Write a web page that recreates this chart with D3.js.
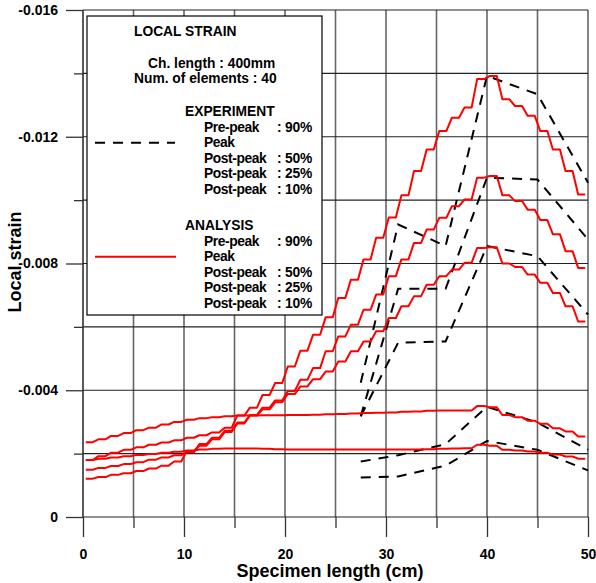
<!DOCTYPE html>
<html>
<head>
<meta charset="utf-8">
<script src="https://cdn.jsdelivr.net/npm/d3@7"></script>
<style>
body { margin: 0; background: #fff; }
text { font-family: "Liberation Sans", Arial, sans-serif; font-weight: bold; }
</style>
</head>
<body>
<div id="chart"></div>
<script>
// axis ticks
var xMajor = [0, 10, 20, 30, 40, 50];
var xMinor = [5, 15, 25, 35, 45];
var yMajor = [0, -0.004, -0.008, -0.012, -0.016];
var yMinor = [-0.002, -0.006, -0.010, -0.014];

// experiment: gauge positions (cm) and strain (x 1e-3, compression)
var expX = [27.5, 31.2, 35.9, 40, 45, 50];
var expPre90 = [1.25, 1.28, 1.62, 2.40, 2.12, 1.47];
var expPeak = [1.75, 1.95, 2.30, 3.48, 2.98, 2.12];
var expPost50 = [3.18, 5.50, 5.54, 8.55, 8.23, 6.39];
var expPost25 = [3.18, 7.20, 7.20, 10.71, 10.65, 8.76];
var expPost10 = [4.24, 9.23, 8.55, 13.92, 13.34, 10.55];

// analysis: 40 elements over 50 cm, strain per element (x 1e-3)
var nElem = 40, elemLen = 1.25;
var anaPre90 = [1.80, 1.84, 1.88, 1.92, 1.96, 1.99, 2.03, 2.06, 2.10, 2.13,
  2.15, 2.16, 2.16, 2.16, 2.15, 2.14, 2.13, 2.13, 2.13, 2.13,
  2.13, 2.13, 2.13, 2.13, 2.13, 2.13, 2.13, 2.14, 2.15, 2.16,
  2.17, 2.28, 2.25, 2.12, 2.10, 2.07, 2.03, 1.97, 1.91, 1.84];
var anaPeak = [2.36, 2.45, 2.56, 2.65, 2.74, 2.82, 2.92, 3.00, 3.07, 3.12,
  3.15, 3.18, 3.20, 3.20, 3.21, 3.21, 3.22, 3.22, 3.23, 3.24,
  3.25, 3.27, 3.28, 3.29, 3.30, 3.32, 3.33, 3.35, 3.36, 3.36,
  3.36, 3.50, 3.46, 3.22, 3.15, 3.04, 2.94, 2.80, 2.70, 2.54];
var anaPost50 = [1.21, 1.26, 1.33, 1.38, 1.45, 1.53, 1.62, 1.75, 2.08, 2.25,
  2.45, 2.68, 2.95, 3.20, 3.40, 3.62, 3.88, 4.12, 4.35, 4.59,
  4.91, 5.23, 5.54, 5.86, 6.28, 6.65, 6.97, 7.33, 7.60, 7.81,
  8.02, 8.49, 8.51, 8.00, 7.89, 7.65, 7.39, 7.07, 6.65, 6.17];
var anaPost25 = [1.49, 1.55, 1.61, 1.67, 1.73, 1.81, 1.88, 1.95, 2.04, 2.30,
  2.50, 2.72, 2.98, 3.22, 3.45, 3.68, 3.98, 4.33, 4.70, 5.23,
  5.70, 6.07, 6.54, 7.02, 7.60, 8.13, 8.65, 9.07, 9.44, 9.81,
  10.02, 10.71, 10.76, 10.15, 9.97, 9.70, 9.37, 8.92, 8.39, 7.86];
var anaPost10 = [1.80, 1.92, 2.03, 2.12, 2.20, 2.28, 2.35, 2.42, 2.50, 2.58,
  2.67, 2.82, 3.20, 3.45, 3.85, 4.23, 4.75, 5.25, 5.75, 6.30,
  6.91, 7.49, 8.13, 8.81, 9.45, 10.15, 10.92, 11.60, 12.18, 12.60,
  12.92, 13.82, 13.92, 13.18, 12.97, 12.66, 12.18, 11.60, 10.92, 10.18];

var expSeries = [expPre90, expPeak, expPost50, expPost25, expPost10];
var anaSeries = [anaPre90, anaPeak, anaPost50, anaPost25, anaPost10];
var caseLabels = ["Pre-peak", "Peak", "Post-peak", "Post-peak", "Post-peak"];
var caseLevels = [": 90%", "", ": 50%", ": 25%", ": 10%"];

var width = 596, height = 583;
var x = d3.scaleLinear().domain([0, 50]).range([83, 588]);
var y = d3.scaleLinear().domain([0, -0.016]).range([517, 10]);
var ms = function (v) { return -v / 1000; };

var svg = d3.select("#chart").append("svg")
  .attr("width", width)
  .attr("height", height);

// grid
var grid = svg.append("g");
grid.selectAll(".vg")
  .data(xMajor.concat(xMinor))
  .enter().append("line")
  .attr("x1", function (d) { return x(d); })
  .attr("x2", function (d) { return x(d); })
  .attr("y1", y(-0.016))
  .attr("y2", y(0))
  .attr("stroke", function (d) { return d === 0 ? "#000" : "#666"; })
  .attr("stroke-width", function (d) { return d === 0 ? 1.3 : 1.6; });
grid.selectAll(".hg")
  .data(yMajor.concat(yMinor))
  .enter().append("line")
  .attr("x1", x(0))
  .attr("x2", x(50))
  .attr("y1", function (d) { return y(d); })
  .attr("y2", function (d) { return y(d); })
  .attr("stroke", "#222")
  .attr("stroke-width", 1.2);

// axes
function styleAxis(g) {
  g.select(".domain").remove();
  g.selectAll(".tick line").attr("stroke", "#333").attr("stroke-width", 1.3);
  g.selectAll(".tick text")
    .attr("fill", "#000")
    .style("font-family", "'Liberation Sans', Arial, sans-serif")
    .style("font-weight", "bold")
    .style("font-size", "14px");
}

svg.append("g")
  .attr("transform", "translate(0," + y(0) + ")")
  .call(d3.axisBottom(x).tickValues(xMajor).tickSize(20).tickPadding(12))
  .call(styleAxis);
svg.append("g")
  .attr("transform", "translate(0," + y(0) + ")")
  .call(d3.axisBottom(x).tickValues(xMinor).tickSize(11).tickFormat(""))
  .call(styleAxis);
svg.append("g")
  .attr("transform", "translate(" + x(0) + ",0)")
  .call(d3.axisLeft(y).tickValues(yMajor).tickSize(17).tickPadding(8)
    .tickFormat(function (d) { return d === 0 ? "0" : d.toFixed(3); }))
  .call(styleAxis);
svg.append("g")
  .attr("transform", "translate(" + x(0) + ",0)")
  .call(d3.axisLeft(y).tickValues(yMinor).tickSize(9).tickFormat(""))
  .call(styleAxis);

// experiment curves
var expLine = d3.line()
  .x(function (d, i) { return x(expX[i]); })
  .y(function (d) { return y(ms(d)); });

svg.append("g").selectAll("path")
  .data(expSeries)
  .enter().append("path")
  .attr("d", expLine)
  .attr("fill", "none")
  .attr("stroke", "#000")
  .attr("stroke-width", 2)
  .attr("stroke-dasharray", "10,8");

// analysis curves, drawn as element steps
var half = 0.35;
function stepPoints(vals) {
  var pts = [];
  vals.forEach(function (v, i) {
    var c = elemLen * (i + 0.5);
    pts.push([c - half, v], [c + half, v]);
  });
  return pts;
}
var anaLine = d3.line()
  .x(function (d) { return x(d[0]); })
  .y(function (d) { return y(ms(d[1])); });

svg.append("g").selectAll("path")
  .data(anaSeries)
  .enter().append("path")
  .attr("d", function (d) { return anaLine(stepPoints(d)); })
  .attr("fill", "none")
  .attr("stroke", "#ff0000")
  .attr("stroke-width", 2)
  .attr("stroke-linejoin", "round");

// legend box
var lg = svg.append("g");
lg.append("rect")
  .attr("x", 87).attr("y", 16)
  .attr("width", 235).attr("height", 299)
  .attr("fill", "#fff")
  .attr("stroke", "#000")
  .attr("stroke-width", 1.2);

function ltext(t, tx, ty, anchor, ls) {
  lg.append("text").attr("x", tx).attr("y", ty)
    .attr("text-anchor", anchor || "start")
    .style("letter-spacing", (ls || 0) + "px")
    .style("font-size", "13.8px").text(t);
}
ltext("LOCAL STRAIN", 134, 36);
ltext("Ch. length : 400mm", 148, 68);
ltext("Num. of elements : " + nElem, 134, 83);
ltext("EXPERIMENT", 185, 116);
ltext("ANALYSIS", 185, 230);

[131.5, 245.5].forEach(function (top) {
  caseLabels.forEach(function (lab, i) {
    ltext(lab, 204, top + i * 15.6, "start", -0.4);
    if (caseLevels[i]) ltext(caseLevels[i], 312, top + i * 15.6, "end", -0.2);
  });
});

lg.append("line")
  .attr("x1", 95).attr("x2", 175)
  .attr("y1", 142.7).attr("y2", 142.7)
  .attr("stroke", "#000").attr("stroke-width", 2)
  .attr("stroke-dasharray", "10,8");
lg.append("line")
  .attr("x1", 95).attr("x2", 176)
  .attr("y1", 256.7).attr("y2", 256.7)
  .attr("stroke", "#ff0000").attr("stroke-width", 2);

// axis titles
svg.append("text")
  .attr("x", 330).attr("y", 577)
  .attr("text-anchor", "middle")
  .style("font-size", "18px")
  .text("Specimen length (cm)");
svg.append("text")
  .attr("transform", "translate(21,262) rotate(-90)")
  .attr("text-anchor", "middle")
  .style("font-size", "18px")
  .text("Local strain");
</script>
</body>
</html>
